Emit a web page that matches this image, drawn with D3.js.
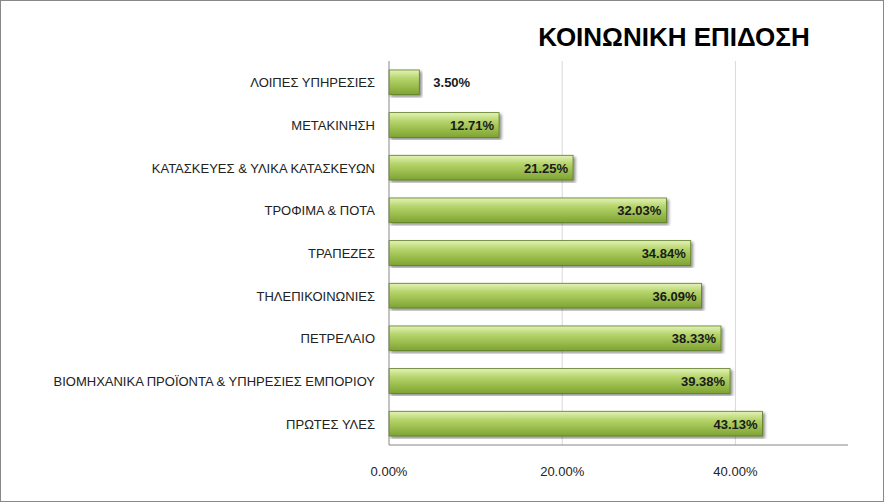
<!DOCTYPE html>
<html><head><meta charset="utf-8">
<script src="https://cdn.jsdelivr.net/npm/d3@7"></script>
<style>body{margin:0;background:#fff}svg{font-family:"Liberation Sans",Arial,sans-serif}</style>
</head><body><svg id="c" width="884" height="502"></svg>
<script>
const categories = ['ΛΟΙΠΕΣ ΥΠΗΡΕΣΙΕΣ', 'ΜΕΤΑΚΙΝΗΣΗ', 'ΚΑΤΑΣΚΕΥΕΣ & ΥΛΙΚΑ ΚΑΤΑΣΚΕΥΩΝ', 'ΤΡΟΦΙΜΑ & ΠΟΤΑ', 'ΤΡΑΠΕΖΕΣ',
  'ΤΗΛΕΠΙΚΟΙΝΩΝΙΕΣ', 'ΠΕΤΡΕΛΑΙΟ', 'ΒΙΟΜΗΧΑΝΙΚΑ ΠΡΟΪΟΝΤΑ & ΥΠΗΡΕΣΙΕΣ ΕΜΠΟΡΙΟΥ', 'ΠΡΩΤΕΣ ΥΛΕΣ']
const values = [0.035, 0.1271, 0.2125, 0.3203, 0.3484, 0.3609, 0.3833, 0.3938, 0.4313]
const ticks = [0, 0.2, 0.4]

const svg = d3.select('#c')
svg.append('rect').attr('x', 0.5).attr('y', 0.5).attr('width', 883).attr('height', 501)
  .attr('fill', '#fff').attr('stroke', '#888')

const defs = svg.append('defs')
const g = defs.append('linearGradient').attr('id', 'bg').attr('x1', 0).attr('y1', 0).attr('x2', 0).attr('y2', 1)
g.append('stop').attr('offset', '0%').attr('stop-color', '#e4f2b8')
g.append('stop').attr('offset', '35%').attr('stop-color', '#b5d46a')
g.append('stop').attr('offset', '100%').attr('stop-color', '#7ea332')
const f = defs.append('filter').attr('id', 'sh')
f.append('feDropShadow').attr('dx', 2).attr('dy', 2).attr('stdDeviation', 1.5).attr('flood-opacity', 0.45)

const x = d3.scaleLinear().domain([0, 0.53]).range([389, 848])
const y = d3.scaleBand().domain(categories).range([61, 445]).paddingInner(0.42).paddingOuter(0.21)

svg.append('text').attr('x', 674).attr('y', 46).attr('text-anchor', 'middle')
  .attr('font-size', 26).attr('font-weight', 'bold').text('ΚΟΙΝΩΝΙΚΗ ΕΠΙΔΟΣΗ')

svg.selectAll('.grid').data(ticks.slice(1)).join('line')
  .attr('x1', d => x(d)).attr('x2', d => x(d)).attr('y1', 61).attr('y2', 445)
  .attr('stroke', '#d9d9d9')

svg.selectAll('.bar').data(values).join('rect')
  .attr('x', x(0)).attr('y', (d, i) => y(categories[i]))
  .attr('width', d => x(d) - x(0)).attr('height', y.bandwidth())
  .attr('fill', 'url(#bg)').attr('stroke', '#5a7a22').attr('stroke-width', 0.8)
  .attr('filter', 'url(#sh)')

svg.selectAll('.val').data(values).join('text')
  .attr('x', d => d < 0.1 ? x(d) + 14 : x(d) - 5)
  .attr('text-anchor', d => d < 0.1 ? 'start' : 'end')
  .attr('y', (d, i) => y(categories[i]) + y.bandwidth() / 2 + 5)
  .attr('font-size', 13).attr('font-weight', 'bold').attr('fill', '#1a1a1a')
  .text(d => (d * 100).toFixed(2) + '%')

svg.selectAll('.cat').data(categories).join('text')
  .attr('x', 375).attr('y', d => y(d) + y.bandwidth() / 2 + 5)
  .attr('text-anchor', 'end').attr('font-size', 13).attr('fill', '#222').text(d => d)

svg.append('line').attr('x1', 389).attr('x2', 389).attr('y1', 61).attr('y2', 445).attr('stroke', '#888')
svg.append('line').attr('x1', 389).attr('x2', 848).attr('y1', 445).attr('y2', 445).attr('stroke', '#888')

svg.selectAll('.tick').data(ticks).join('text')
  .attr('x', d => x(d)).attr('y', 476).attr('text-anchor', 'middle')
  .attr('font-size', 13).attr('fill', '#222').text(d => (d * 100).toFixed(2) + '%')
</script></body></html>
